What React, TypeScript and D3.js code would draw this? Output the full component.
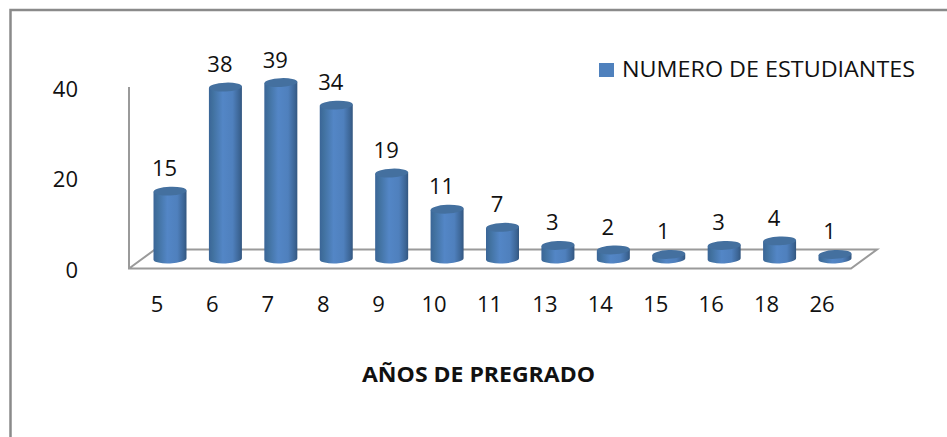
import React from "react";
import * as d3 from "d3";

const categories = ["5","6","7","8","9","10","11","13","14","15","16","18","26"];
const values = [15,38,39,34,19,11,7,3,2,1,3,4,1];
const yTicks = [0,20,40];
const seriesName = "NUMERO DE ESTUDIANTES";
const xTitle = "AÑOS DE PREGRADO";

const W = 947, H = 437;
const FONT = "'Open Sans', 'Noto Sans', sans-serif";

export default function App() {
  const x = d3.scalePoint<string>().domain(categories).range([170, 835]);
  const y = d3.scaleLinear().domain([0, 40]).range([259, 78]);
  const axisY = d3.scaleLinear().domain([0, 40]).range([268, 87]);
  const rx = 16.5, ry = 4.4, tilt = -2.5;
  return (
    <svg width={W} height={H} style={{ position: "absolute", left: 0, top: 0, display: "block" }}>
      <defs>
        <linearGradient id="cyl" x1="0" x2="1" y1="0" y2="0">
          <stop offset="0" stopColor="#3a6597" />
          <stop offset="0.12" stopColor="#41719f" />
          <stop offset="0.42" stopColor="#5386c6" />
          <stop offset="0.72" stopColor="#4f80bd" />
          <stop offset="0.92" stopColor="#3c6595" />
          <stop offset="1" stopColor="#33567f" />
        </linearGradient>
      </defs>
      <rect width={W} height={H} fill="#fff" />
      <path d="M10.5 437V10H947" fill="none" stroke="#8a8a8a" strokeWidth={2.5} />
      <path d="M129 87V268.5H851L877 249.5H155L129 268.5" fill="none" stroke="#9a9a9a" strokeWidth={2} />
      {yTicks.map(t => (
        <text key={t} x={78} y={axisY(t) + 9.5} fontFamily={FONT} fontSize={22} textAnchor="end" fill="#111">{t}</text>
      ))}
      {values.map((v, i) => {
        const cx = x(categories[i]) as number;
        const top = y(v);
        const base = y(0);
        const dy = Math.sin((tilt * Math.PI) / 180) * rx;
        return (
          <g key={categories[i]}>
            <path
              d={`M${cx - rx} ${top - dy}L${cx - rx} ${base - dy}A${rx} ${ry} ${tilt} 0 0 ${cx + rx} ${base + dy}L${cx + rx} ${top + dy}Z`}
              fill="url(#cyl)"
            />
            <ellipse cx={cx} cy={top} rx={rx} ry={ry} transform={`rotate(${tilt} ${cx} ${top})`} fill="#44709f" />
            <text x={cx - 5.5} y={top - 15} fontFamily={FONT} fontSize={22} textAnchor="middle" fill="#111">{v}</text>
            <text x={cx - 13} y={312} fontFamily={FONT} fontSize={22} textAnchor="middle" fill="#111">{categories[i]}</text>
          </g>
        );
      })}
      <rect x={599} y={63} width={15} height={14} fill="#4f81bd" />
      <text x={622} y={77} fontFamily={FONT} fontSize={22} fill="#111" textLength={293} lengthAdjust="spacingAndGlyphs">{seriesName}</text>
      <text x={478.5} y={382} fontFamily={FONT} fontSize={21} fontWeight={700} textAnchor="middle" fill="#111" textLength={233} lengthAdjust="spacingAndGlyphs">{xTitle}</text>
    </svg>
  );
}
